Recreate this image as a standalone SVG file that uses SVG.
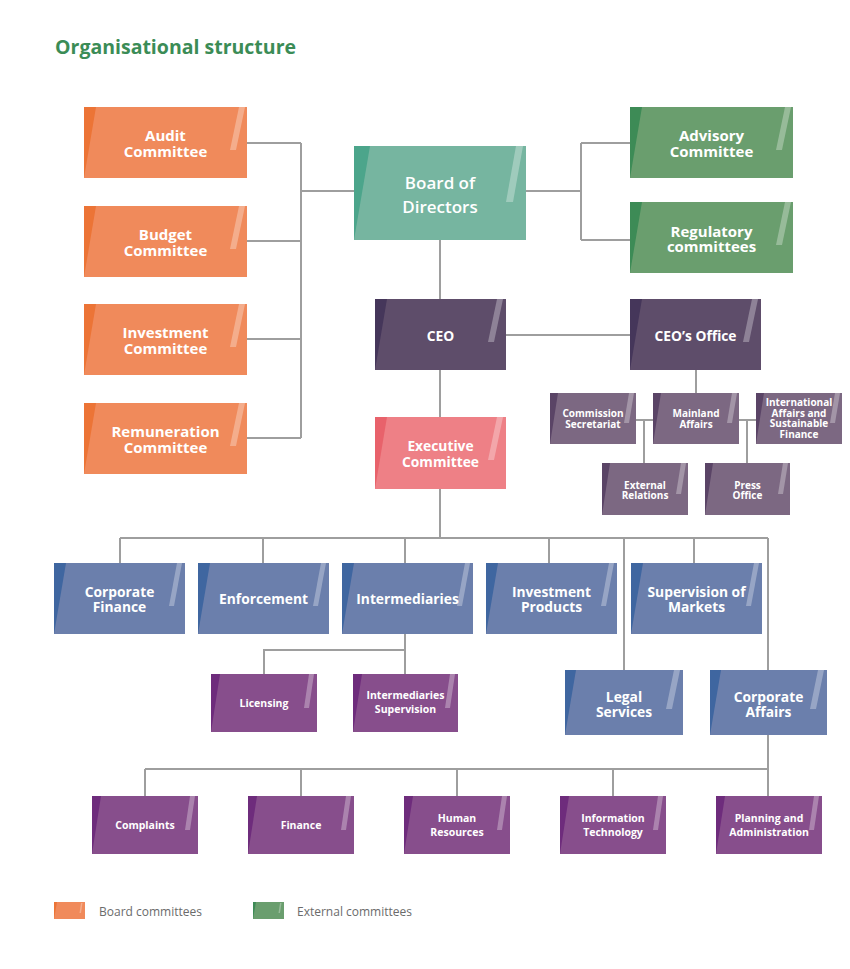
<svg xmlns="http://www.w3.org/2000/svg" width="850" height="969" viewBox="0 0 850 969">
<style>
text{font-family:"Open Sans","Noto Sans","Liberation Sans",sans-serif;fill:#fff;text-anchor:middle}
.title{font-size:19.5px;font-weight:bold;fill:#3b8c56;text-anchor:start}
.t15{font-size:15px;font-weight:bold}
.t14{font-size:13.8px;font-weight:bold}
.t10{font-size:10px;font-weight:bold}
.t105{font-size:10.5px;font-weight:bold}
.brd{font-size:17px;font-weight:600}
.leg{font-size:12px;fill:#6b6b6b;text-anchor:start}
.hl{fill:#fff;fill-opacity:0.3}
.or{fill:#f08a5b}.or-d{fill:#ec7436}
.gr{fill:#6a9e6e}.gr-d{fill:#3d8b56}
.tl{fill:#76b5a0}.tl-d{fill:#4ca58b}
.ce{fill:#5e4d6a}.ce-d{fill:#45365a}
.ex{fill:#ee8086}.ex-d{fill:#e8626b}
.of{fill:#7c6882}.of-d{fill:#5a4466}
.bl{fill:#6b7fac}.bl-d{fill:#3f66a0}
.pu{fill:#874e8c}.pu-d{fill:#6e2c7c}
#connectors path{fill:none;stroke:#9e9e9e;stroke-width:2}
</style>
<rect width="850" height="969" fill="#fff"/>
<text class="title" x="55" y="54">Organisational structure</text>

<g id="connectors">
<path d="M247,143H301M247,241H301M247,339H301M247,438H301M301,143V438M301,191H354"/>
<path d="M526,191H581M581,143V240M581,143H630M581,240H630"/>
<path d="M440,240V299M506,335H630M440,370V417M696,370V393"/>
<path d="M636,420H653M739,420H756M644,420V463M747,420V463"/>
<path d="M440,489V538M120,538H768M120,538V563M263,538V563M405,538V563M549,538V563M694,538V563M624,538V670M768,538V670"/>
<path d="M405,634V674M405,650H264V674"/>
<path d="M768,735V796M145,769H768M145,769V796M301,769V796M457,769V796M613,769V796"/>
</g>

<g id="audit">
<rect class="or" x="84" y="107" width="163" height="71"/>
<polygon class="or-d" points="84,107 96,107 84,178"/>
<polygon class="hl" points="239,107 245,107 236,150 230,150"/>
<text class="t15" x="165.5" y="141">Audit</text><text class="t15" x="165.5" y="157">Committee</text>
</g>
<g id="budget">
<rect class="or" x="84" y="206" width="163" height="71"/>
<polygon class="or-d" points="84,206 96,206 84,277"/>
<polygon class="hl" points="239,206 245,206 236,249 230,249"/>
<text class="t15" x="165.5" y="240">Budget</text><text class="t15" x="165.5" y="256">Committee</text>
</g>
<g id="investment">
<rect class="or" x="84" y="304" width="163" height="71"/>
<polygon class="or-d" points="84,304 96,304 84,375"/>
<polygon class="hl" points="239,304 245,304 236,347 230,347"/>
<text class="t15" x="165.5" y="338">Investment</text><text class="t15" x="165.5" y="354">Committee</text>
</g>
<g id="remuneration">
<rect class="or" x="84" y="403" width="163" height="71"/>
<polygon class="or-d" points="84,403 96,403 84,474"/>
<polygon class="hl" points="239,403 245,403 236,446 230,446"/>
<text class="t15" x="165.5" y="437">Remuneration</text><text class="t15" x="165.5" y="453">Committee</text>
</g>

<g id="board">
<rect class="tl" x="354" y="146" width="172" height="94"/>
<polygon class="tl-d" points="354,146 370,146 354,240"/>
<polygon class="hl" points="516,146 523,146 513,202 506,202"/>
<text class="brd" x="440" y="189">Board of</text><text class="brd" x="440" y="213">Directors</text>
</g>

<g id="advisory">
<rect class="gr" x="630" y="107" width="163" height="71"/>
<polygon class="gr-d" points="630,107 642,107 630,178"/>
<polygon class="hl" points="785,107 791,107 782,150 776,150"/>
<text class="t15" x="711.5" y="141">Advisory</text><text class="t15" x="711.5" y="157">Committee</text>
</g>
<g id="regulatory">
<rect class="gr" x="630" y="202" width="163" height="71"/>
<polygon class="gr-d" points="630,202 642,202 630,273"/>
<polygon class="hl" points="785,202 791,202 782,245 776,245"/>
<text class="t15" x="711.5" y="237">Regulatory</text><text class="t15" x="711.5" y="252">committees</text>
</g>

<g id="ceo">
<rect class="ce" x="375" y="299" width="131" height="71"/>
<polygon class="ce-d" points="375,299 387,299 375,370"/>
<polygon class="hl" points="497,299 503,299 494,342 488,342"/>
<text class="t14" x="440.5" y="341">CEO</text>
</g>
<g id="ceo-office">
<rect class="ce" x="630" y="299" width="131" height="71"/>
<polygon class="ce-d" points="630,299 642,299 630,370"/>
<polygon class="hl" points="752,299 758,299 749,342 743,342"/>
<text class="t14" x="695.5" y="341">CEO’s Office</text>
</g>

<g id="commission-secretariat">
<rect class="of" x="550" y="393" width="86" height="51"/>
<polygon class="of-d" points="550,393 558,393 550,444"/>
<polygon class="hl" points="629,393 634,393 629,423 624,423"/>
<text class="t10" x="593" y="417">Commission</text><text class="t10" x="593" y="427.5">Secretariat</text>
</g>
<g id="mainland-affairs">
<rect class="of" x="653" y="393" width="86" height="51"/>
<polygon class="of-d" points="653,393 661,393 653,444"/>
<polygon class="hl" points="732,393 737,393 732,423 727,423"/>
<text class="t10" x="696" y="417">Mainland</text><text class="t10" x="696" y="427.5">Affairs</text>
</g>
<g id="international-affairs">
<rect class="of" x="756" y="393" width="86" height="51"/>
<polygon class="of-d" points="756,393 764,393 756,444"/>
<polygon class="hl" points="835,393 840,393 835,423 830,423"/>
<text class="t10" x="799" y="406">International</text><text class="t10" x="799" y="416.5">Affairs and</text><text class="t10" x="799" y="427">Sustainable</text><text class="t10" x="799" y="437.5">Finance</text>
</g>
<g id="external-relations">
<rect class="of" x="602" y="463" width="86" height="52"/>
<polygon class="of-d" points="602,463 610,463 602,515"/>
<polygon class="hl" points="681,463 686,463 681,494 676,494"/>
<text class="t10" x="645" y="488.5">External</text><text class="t10" x="645" y="499">Relations</text>
</g>
<g id="press-office">
<rect class="of" x="705" y="463" width="85" height="52"/>
<polygon class="of-d" points="705,463 713,463 705,515"/>
<polygon class="hl" points="783,463 788,463 783,494 778,494"/>
<text class="t10" x="747.5" y="488.5">Press</text><text class="t10" x="747.5" y="499">Office</text>
</g>

<g id="executive-committee">
<rect class="ex" x="375" y="417" width="131" height="72"/>
<polygon class="ex-d" points="375,417 387,417 375,489"/>
<polygon class="hl" points="497,417 503,417 494,460 488,460"/>
<text class="t14" x="440.5" y="451">Executive</text><text class="t14" x="440.5" y="467">Committee</text>
</g>

<g id="corporate-finance">
<rect class="bl" x="54" y="563" width="131" height="71"/>
<polygon class="bl-d" points="54,563 66,563 54,634"/>
<polygon class="hl" points="177,563 182,563 174,606 169,606"/>
<text class="t14" x="119.5" y="597">Corporate</text><text class="t14" x="119.5" y="612">Finance</text>
</g>
<g id="enforcement">
<rect class="bl" x="198" y="563" width="131" height="71"/>
<polygon class="bl-d" points="198,563 210,563 198,634"/>
<polygon class="hl" points="321,563 326,563 318,606 313,606"/>
<text class="t14" x="263.5" y="604">Enforcement</text>
</g>
<g id="intermediaries">
<rect class="bl" x="342" y="563" width="131" height="71"/>
<polygon class="bl-d" points="342,563 354,563 342,634"/>
<polygon class="hl" points="465,563 470,563 462,606 457,606"/>
<text class="t14" x="407.5" y="604">Intermediaries</text>
</g>
<g id="investment-products">
<rect class="bl" x="486" y="563" width="131" height="71"/>
<polygon class="bl-d" points="486,563 498,563 486,634"/>
<polygon class="hl" points="609,563 614,563 606,606 601,606"/>
<text class="t14" x="551.5" y="597">Investment</text><text class="t14" x="551.5" y="612">Products</text>
</g>
<g id="supervision-of-markets">
<rect class="bl" x="631" y="563" width="131" height="71"/>
<polygon class="bl-d" points="631,563 643,563 631,634"/>
<polygon class="hl" points="754,563 759,563 751,606 746,606"/>
<text class="t14" x="696.5" y="597">Supervision of</text><text class="t14" x="696.5" y="612">Markets</text>
</g>
<g id="legal-services">
<rect class="bl" x="565" y="670" width="118" height="65"/>
<polygon class="bl-d" points="565,670 576,670 565,735"/>
<polygon class="hl" points="674,670 680,670 672,709 666,709"/>
<text class="t14" x="624" y="702">Legal</text><text class="t14" x="624" y="717">Services</text>
</g>
<g id="corporate-affairs">
<rect class="bl" x="710" y="670" width="117" height="65"/>
<polygon class="bl-d" points="710,670 721,670 710,735"/>
<polygon class="hl" points="818,670 824,670 816,709 810,709"/>
<text class="t14" x="768.5" y="702">Corporate</text><text class="t14" x="768.5" y="717">Affairs</text>
</g>

<g id="licensing">
<rect class="pu" x="211" y="674" width="106" height="58"/>
<polygon class="pu-d" points="211,674 220,674 211,732"/>
<polygon class="hl" points="309,674 314,674 309,708 304,708"/>
<text class="t105" x="264" y="707">Licensing</text>
</g>
<g id="intermediaries-supervision">
<rect class="pu" x="353" y="674" width="105" height="58"/>
<polygon class="pu-d" points="353,674 362,674 353,732"/>
<polygon class="hl" points="450,674 455,674 450,708 445,708"/>
<text class="t105" x="405.5" y="699">Intermediaries</text><text class="t105" x="405.5" y="713">Supervision</text>
</g>

<g id="complaints">
<rect class="pu" x="92" y="796" width="106" height="58"/>
<polygon class="pu-d" points="92,796 101,796 92,854"/>
<polygon class="hl" points="190,796 195,796 190,830 185,830"/>
<text class="t105" x="145" y="829">Complaints</text>
</g>
<g id="finance">
<rect class="pu" x="248" y="796" width="106" height="58"/>
<polygon class="pu-d" points="248,796 257,796 248,854"/>
<polygon class="hl" points="346,796 351,796 346,830 341,830"/>
<text class="t105" x="301" y="829">Finance</text>
</g>
<g id="human-resources">
<rect class="pu" x="404" y="796" width="106" height="58"/>
<polygon class="pu-d" points="404,796 413,796 404,854"/>
<polygon class="hl" points="502,796 507,796 502,830 497,830"/>
<text class="t105" x="457" y="822">Human</text><text class="t105" x="457" y="836">Resources</text>
</g>
<g id="information-technology">
<rect class="pu" x="560" y="796" width="106" height="58"/>
<polygon class="pu-d" points="560,796 569,796 560,854"/>
<polygon class="hl" points="658,796 663,796 658,830 653,830"/>
<text class="t105" x="613" y="822">Information</text><text class="t105" x="613" y="836">Technology</text>
</g>
<g id="planning-and-administration">
<rect class="pu" x="716" y="796" width="106" height="58"/>
<polygon class="pu-d" points="716,796 725,796 716,854"/>
<polygon class="hl" points="814,796 819,796 814,830 809,830"/>
<text class="t105" x="769" y="822">Planning and</text><text class="t105" x="769" y="836">Administration</text>
</g>

<g id="legend">
<rect class="or" x="54" y="902" width="31" height="17"/>
<polygon class="or-d" points="54,902 57,902 54,919"/>
<polygon class="hl" points="81,903 82.5,903 81,913 79.5,913"/>
<text class="leg" x="99" y="916">Board committees</text>
<rect class="gr" x="253" y="902" width="31" height="17"/>
<polygon class="gr-d" points="253,902 256,902 253,919"/>
<polygon class="hl" points="280,903 281.5,903 280,913 278.5,913"/>
<text class="leg" x="297" y="916">External committees</text>
</g>
</svg>
